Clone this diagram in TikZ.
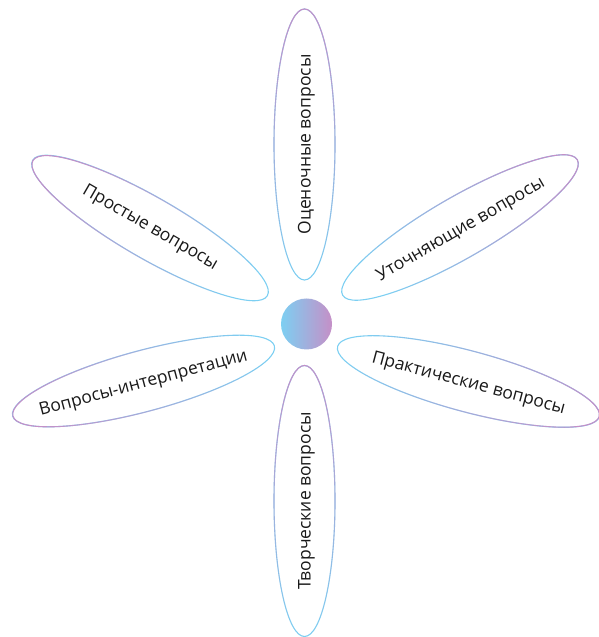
\documentclass[tikz,border=0pt]{standalone}
\usepackage{fontspec}
\setmainfont{Open Sans}
\usetikzlibrary{calc,fadings}
\definecolor{petalpurple}{HTML}{C58FC7}
\definecolor{petalblue}{HTML}{7DCFF2}
\tikzset{
  petal line/.style={line width=1.1pt},
  petal text/.style={font=\fontsize{17.5}{20}\selectfont, text=black!90},
}
% petal: centre, turn of the long axis, angle of the fading
\def\petal(#1)(#2:#3){\begin{scope}[shift={(#1)}, rotate=#2]
  \draw[petal line, petalblue] (0,0) ellipse (135.5 and 30.5);
  \draw[petal line, petalpurple, path fading=south, fading angle=#3] (0,0) ellipse (135.5 and 30.5);
\end{scope}}

\begin{document}
\begin{tikzpicture}[x=1pt, y=1pt]
			%%%%% START %%%%%
			\useasboundingbox (0, 0) rectangle (598, 637);
			
			\shade[left color=petalblue, right color=petalpurple] (306.5, 313) circle (25.5);
			
			\petal(304.5, 492.5)(90:0);
			\petal(304.5, 136)(90:0);
			\petal(150, 409)(-30:60);
			\petal(460, 409.5)(30:-60);
			\petal(143.5, 256)(15:105);
			\petal(468.5, 255.5)(-15:-105);
			
			\node[petal text, rotate=90] (ocen) at (306.5, 492.5) {Оценочные вопросы};
			\node[petal text, rotate=90] (tvor) at (306.5, 136) {Творческие вопросы};
			\node[petal text, rotate=-30] (prost) at (150, 409) {Простые вопросы};
			\node[petal text, rotate=30] (utoch) at (461, 407) {Уточняющие вопросы};
			\node[petal text, rotate=15] (interp) at (143.5, 253) {Вопросы-интерпретации};
			\node[petal text, rotate=-15] (prakt) at (468.5, 253) {Практические вопросы};
			%%%%% END %%%%%
\end{tikzpicture}
\end{document}
